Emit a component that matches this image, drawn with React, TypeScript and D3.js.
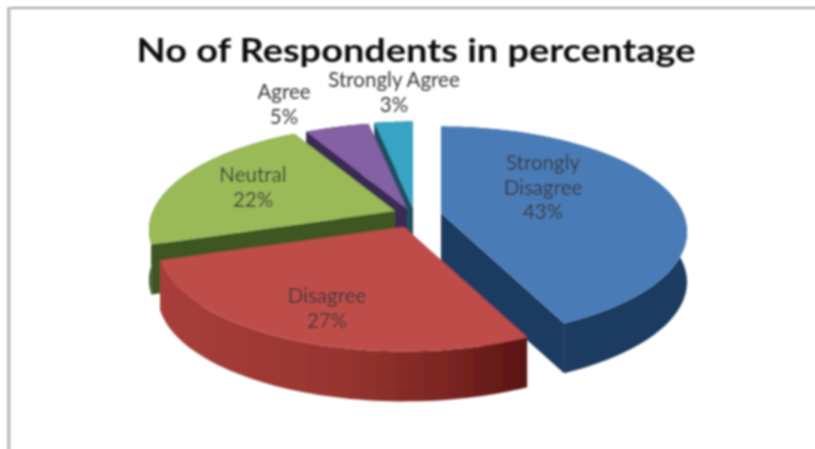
import React from "react";
import * as d3 from "d3";

const categories = ["Strongly Disagree", "Disagree", "Neutral", "Agree", "Strongly Agree"];
const percentages = [43, 27, 22, 5, 3];
const labelLines = [["Strongly", "Disagree", "43%"], ["Disagree", "27%"], ["Neutral", "22%"], ["Agree", "5%"], ["Strongly Agree", "3%"]];
const labelCenters = [[543, 164], [327, 297], [253, 176], [284, 93], [394, 81]];
const apexes = [[441, 213], [404, 227], [395, 211], [407, 209], [413, 208]];
const topColors = ["#4A7BB7", "#BE4D4A", "#9ABA59", "#8461A4", "#37A3C2"];
const wallColors = ["#1D3A60", "#7A2422", "#3E5620", "#3A2A52", "#1C4F60"];
const drawOrder = [4, 3, 2, 0, 1];

const W = 815, H = 449;
const RX = 242, RY = 102, P = 0.18, DEPTH = 50;

const project = (a: number, apex: number[]) => {
  const u = Math.sin(a), v = -Math.cos(a);
  const d = 1 - P * v;
  return [apex[0] + (RX * u) / d, apex[1] + (RY * v) / d] as [number, number];
};
const line = d3.line<[number, number]>().x((d) => d[0]).y((d) => d[1]);
const shift = (p: [number, number]) => [p[0], p[1] + DEPTH] as [number, number];

export default function App() {
  const slices = d3.pie<number>().sort(null)(percentages);
  return (
    <svg width={W} height={H} style={{ position: "absolute", left: 0, top: 0, display: "block", background: "#fff" }}>
      <defs>
        <filter id="soft" x="0" y="0" width="100%" height="100%" filterUnits="userSpaceOnUse" primitiveUnits="userSpaceOnUse">
          <feGaussianBlur stdDeviation="0.8" />
        </filter>
        <linearGradient id="wall1" gradientUnits="userSpaceOnUse" x1="160" x2="525" y1="0" y2="0">
          <stop offset="0" stopColor="#A83E3B" />
          <stop offset="0.5" stopColor="#97352F" />
          <stop offset="0.8" stopColor="#7A2422" />
          <stop offset="1" stopColor="#5A1513" />
        </linearGradient>
      </defs>
      <g filter="url(#soft)">
        <rect x={7} y={7} width={W} height={1.6} fill="#8c8c8c" />
        <rect x={7} y={7} width={3.5} height={H} fill="#bdbdbd" />
        {drawOrder.map((i) => {
          const s = slices[i];
          const apex = apexes[i];
          const arc = d3.range(0, 61).map((k) => project(s.startAngle + ((s.endAngle - s.startAngle) * k) / 60, apex));
          const a0 = apex as [number, number];
          const first = arc[0];
          const last = arc[arc.length - 1];
          const wallFill = i === 1 ? "url(#wall1)" : wallColors[i];
          const outer = [...arc, ...arc.slice().reverse().map(shift)];
          return (
            <g key={categories[i]}>
              <path d={line([a0, first, shift(first), shift(a0)]) + "Z"} fill={wallColors[i]} />
              <path d={line([a0, last, shift(last), shift(a0)]) + "Z"} fill={wallColors[i]} />
              <path d={line(outer) + "Z"} fill={wallFill} />
              <path d={line([a0, ...arc]) + "Z"} fill={topColors[i]} />
            </g>
          );
        })}
        {labelLines.map((lines, i) => (
          <text key={i} textAnchor="middle" fontFamily="Lato, 'Open Sans', sans-serif" fontSize={20.5} fill="#3a3a3a">
            {lines.map((t, j) => (
              <tspan key={j} x={labelCenters[i][0]} y={labelCenters[i][1] + 6 + j * 24.5}>{t}</tspan>
            ))}
          </text>
        ))}
        <text x={416} y={62} textAnchor="middle" fontFamily="Lato, 'Open Sans', sans-serif" fontWeight={700} fontSize={33} textLength={559} lengthAdjust="spacingAndGlyphs" fill="#111">
          No of Respondents in percentage
        </text>
      </g>
    </svg>
  );
}
